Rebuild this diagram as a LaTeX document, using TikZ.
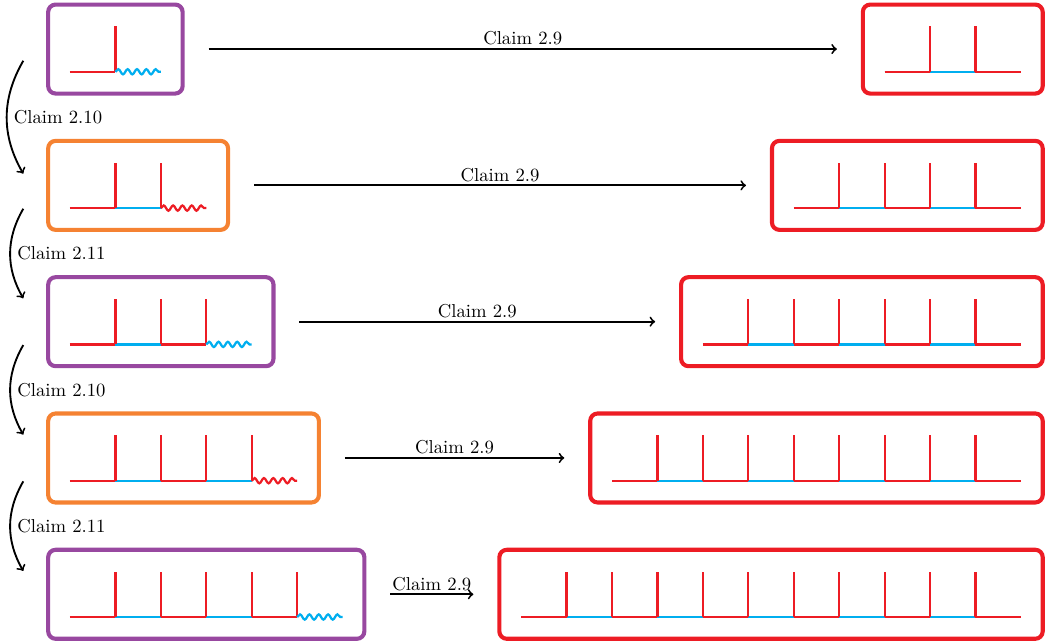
\documentclass[tikz,border=0pt]{standalone}
\usepackage{tikz}
\usetikzlibrary{fit,decorations.pathmorphing}
\definecolor{chainred}{RGB}{237,28,36}
\definecolor{chainblue}{RGB}{0,174,239}
\definecolor{boxpurple}{RGB}{152,72,160}
\definecolor{boxorange}{RGB}{245,130,50}
\tikzset{
  redline/.style={draw=chainred, line width=1.2pt},
  blueline/.style={draw=chainblue, line width=1.2pt},
  wiggle/.style={decorate, decoration={snake, amplitude=1.4pt, segment length=5pt}, line width=1.2pt},
  chainbox/.style={draw, line width=2.2pt, rounded corners=4pt, inner sep=0.41cm},
  claim/.style={->, line width=1pt},
}

\begin{document}
\begin{tikzpicture}[x=0.855cm, y=0.855cm]
  \useasboundingbox (0,0) rectangle (23,-14.174);

  % Left chains, ending in a wavy line
  \foreach \r/\b/\w/\k/\odd in {1/-1.58/chainblue/boxpurple/{1}, 2/-4.58/chainred/boxorange/{1},
      3/-7.58/chainblue/boxpurple/{1,3}, 4/-10.58/chainred/boxorange/{1,3},
      5/-13.58/chainblue/boxpurple/{1,3,5}} {
    \coordinate (l\r s) at (1.54,\b);
    \coordinate (l\r t) at (2.54,\b+1);
    \coordinate (l\r e) at (2.54+\r,\b);
    \draw[blueline] (l\r s) -- (1.54+\r,\b);
    \foreach \j in \odd
      \draw[redline] (1.54+\j-1,\b) -- (1.54+\j,\b);
    \foreach \j in {1,...,\r}
      \draw[redline] (1.54+\j,\b) -- (1.54+\j,\b+1);
    \draw[wiggle, \w] (1.54+\r,\b) -- (l\r e);
    \node[chainbox, draw=\k, fit=(l\r s)(l\r t)(l\r e)] (L\r) {};
  }

  % Right chains
  \foreach \r/\b/\s/\m in {1/-1.58/19.47/3, 2/-4.58/17.47/5, 3/-7.58/15.47/7,
      4/-10.58/13.47/9, 5/-13.58/11.47/11} {
    \coordinate (r\r s) at (\s,\b);
    \coordinate (r\r t) at (\s+1,\b+1);
    \coordinate (r\r e) at (22.47,\b);
    \draw[blueline] (r\r s) -- (r\r e);
    \foreach \j in {1,3,...,\m}
      \draw[redline] (\s+\j-1,\b) -- (\s+\j,\b);
    \foreach \j in {2,...,\m}
      \draw[redline] (\s+\j-1,\b) -- (\s+\j-1,\b+1);
    \node[chainbox, draw=chainred, fit=(r\r s)(r\r t)(r\r e)] (R\r) {};
  }

  % Claim 2.9 arrows
  \foreach \r in {1,...,5}
    \draw[claim] ([xshift=0.45cm]L\r.east) -- node[above, inner sep=1.5pt] {Claim 2.9} ([xshift=-0.45cm]R\r.west);

  % Arrows down the left side
  \foreach \r/\q/\o/\t in {1/2/0.22cm/Claim 2.10, 2/3/0.44cm/Claim 2.11,
      3/4/0.44cm/Claim 2.10, 4/5/0.44cm/Claim 2.11}
    \draw[claim] ([xshift=-0.43cm, yshift=-\o]L\r.west) to[bend right=30]
      node[right] {\t} ([xshift=-0.43cm, yshift=\o]L\q.west);
\end{tikzpicture}
\end{document}
